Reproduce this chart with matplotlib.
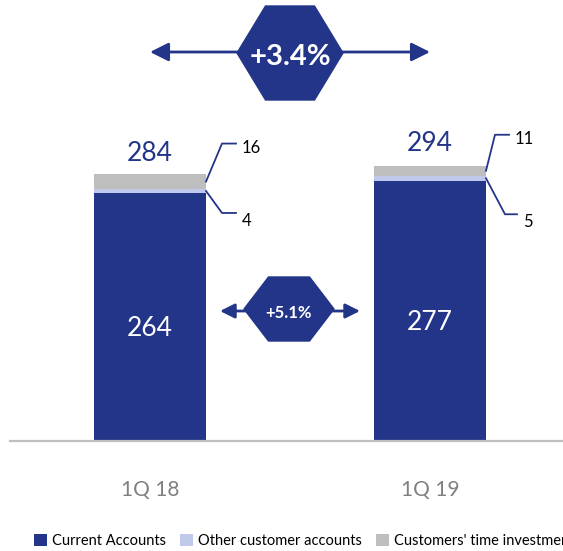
import matplotlib.pyplot as plt
from matplotlib.patches import Polygon
import numpy as np

# data
quarters = ["1Q 18", "1Q 19"]
current_accounts = [264, 277]
other_accounts = [4, 5]
time_investments = [16, 11]
totals = [284, 294]
growth_total = "+3.4%"
growth_current = "+5.1%"

DARK = "#233588"
LIGHT = "#C0C8EC"
GREY = "#BEBEBE"

plt.rcParams["font.family"] = ["Lato", "DejaVu Sans"]

W, H = 563, 551
fig = plt.figure(figsize=(W / 100, H / 100), dpi=100)
ax = fig.add_axes([0, 0, 1, 1])

# pixel layout -> data scale
xs = np.arange(len(quarters))
px_per_cat = 280.0
x0_px = 150.0
base_px = 441.0
px_per_val = 0.94
ax.set_xlim(-x0_px / px_per_cat, (W - x0_px) / px_per_cat)
ax.set_ylim(-(H - base_px) / px_per_val, base_px / px_per_val)
ax.axis("off")


def P(x, y):
    # pixel (from top-left) to data coords
    return ((x - x0_px) / px_per_cat, (base_px - y) / px_per_val)


bw = 112 / px_per_cat
ca = np.array(current_accounts)
oa = np.array(other_accounts)
ti = np.array(time_investments)
b1 = ax.bar(xs, ca, bw, color=DARK, label="Current Accounts")
b2 = ax.bar(xs, oa, bw, bottom=ca, color=LIGHT, label="Other customer accounts")
b3 = ax.bar(xs, ti, bw, bottom=ca + oa, color=GREY, label="Customers' time investments")

# baseline
ax.plot([P(10, 0)[0], P(W, 0)[0]], [0, 0], color="#BFBFBF", lw=1.6)

for i in xs:
    ax.text(i, ca[i] / 2 - 12, str(ca[i]), color="white", fontsize=19,
            ha="center", va="center")
    ax.text(i, totals[i] + 22, str(totals[i]), color=DARK, fontsize=19,
            ha="center", va="center")
    ax.text(i, P(0, 490)[1], quarters[i], color="#808080", fontsize=15,
            ha="center", va="center")

# leader lines for the small segments
leaders = [
    # (bar, y value start, dx px, dy px to elbow, horizontal px, label)
    (0, ca[0] + oa[0] + ti[0] / 2, 16, 38, 14, str(ti[0])),
    (0, ca[0] + oa[0] / 2, 16, -22, 14, str(oa[0])),
    (1, ca[1] + oa[1] + ti[1] / 2, 9, 36, 14, str(ti[1])),
    (1, ca[1] + oa[1] / 2, 19, -36, 12, str(oa[1])),
]
for i, yv, dx, dy, hl, lab in leaders:
    xs0 = i + bw / 2
    xe = xs0 + dx / px_per_cat
    ye = yv + dy / px_per_val
    xh = xe + hl / px_per_cat
    ax.plot([xs0, xe, xh], [yv, ye, ye], color=DARK, lw=1.3)
    ax.text(xh + 6 / px_per_cat, ye + (-4 if dy > 0 else -8) / px_per_val, lab,
            color="black", fontsize=12, ha="left", va="center")


def hexagon(cx, cy, w, h, txt, fs):
    pts = [P(cx - w / 2, cy), P(cx - w / 4 + 2, cy - h / 2), P(cx + w / 4 - 2, cy - h / 2),
           P(cx + w / 2, cy), P(cx + w / 4 - 2, cy + h / 2), P(cx - w / 4 + 2, cy + h / 2)]
    ax.add_patch(Polygon(pts, closed=True, color=DARK, zorder=4))
    ax.text(*P(cx, cy + 4), txt, color="white", fontsize=fs, fontweight="bold",
            ha="center", va="center", zorder=5)


def arrow(x1, x2, y, ms):
    for xa, xb in [(x1, (x1 + x2) / 2), (x2, (x1 + x2) / 2)]:
        ax.annotate("", xy=P(xa, y), xytext=P(xb, y),
                    arrowprops=dict(arrowstyle="-|>", color=DARK, lw=2,
                                    mutation_scale=ms, shrinkA=0, shrinkB=0),
                    zorder=3)


arrow(150, 430, 52, 28)
hexagon(290, 53, 106, 94, growth_total, 21)
arrow(220, 360, 311, 22)
hexagon(289, 309, 90, 64, growth_current, 12)

fig.legend(handles=[b1, b2, b3], loc="center left", bbox_to_anchor=(34 / W, 1 - 541 / H),
           ncol=3, frameon=False, fontsize=10.5, handlelength=0.9, handleheight=0.9,
           handletextpad=0.3, columnspacing=1.0, borderaxespad=0, borderpad=0)

fig.savefig("out.png", dpi=100)
